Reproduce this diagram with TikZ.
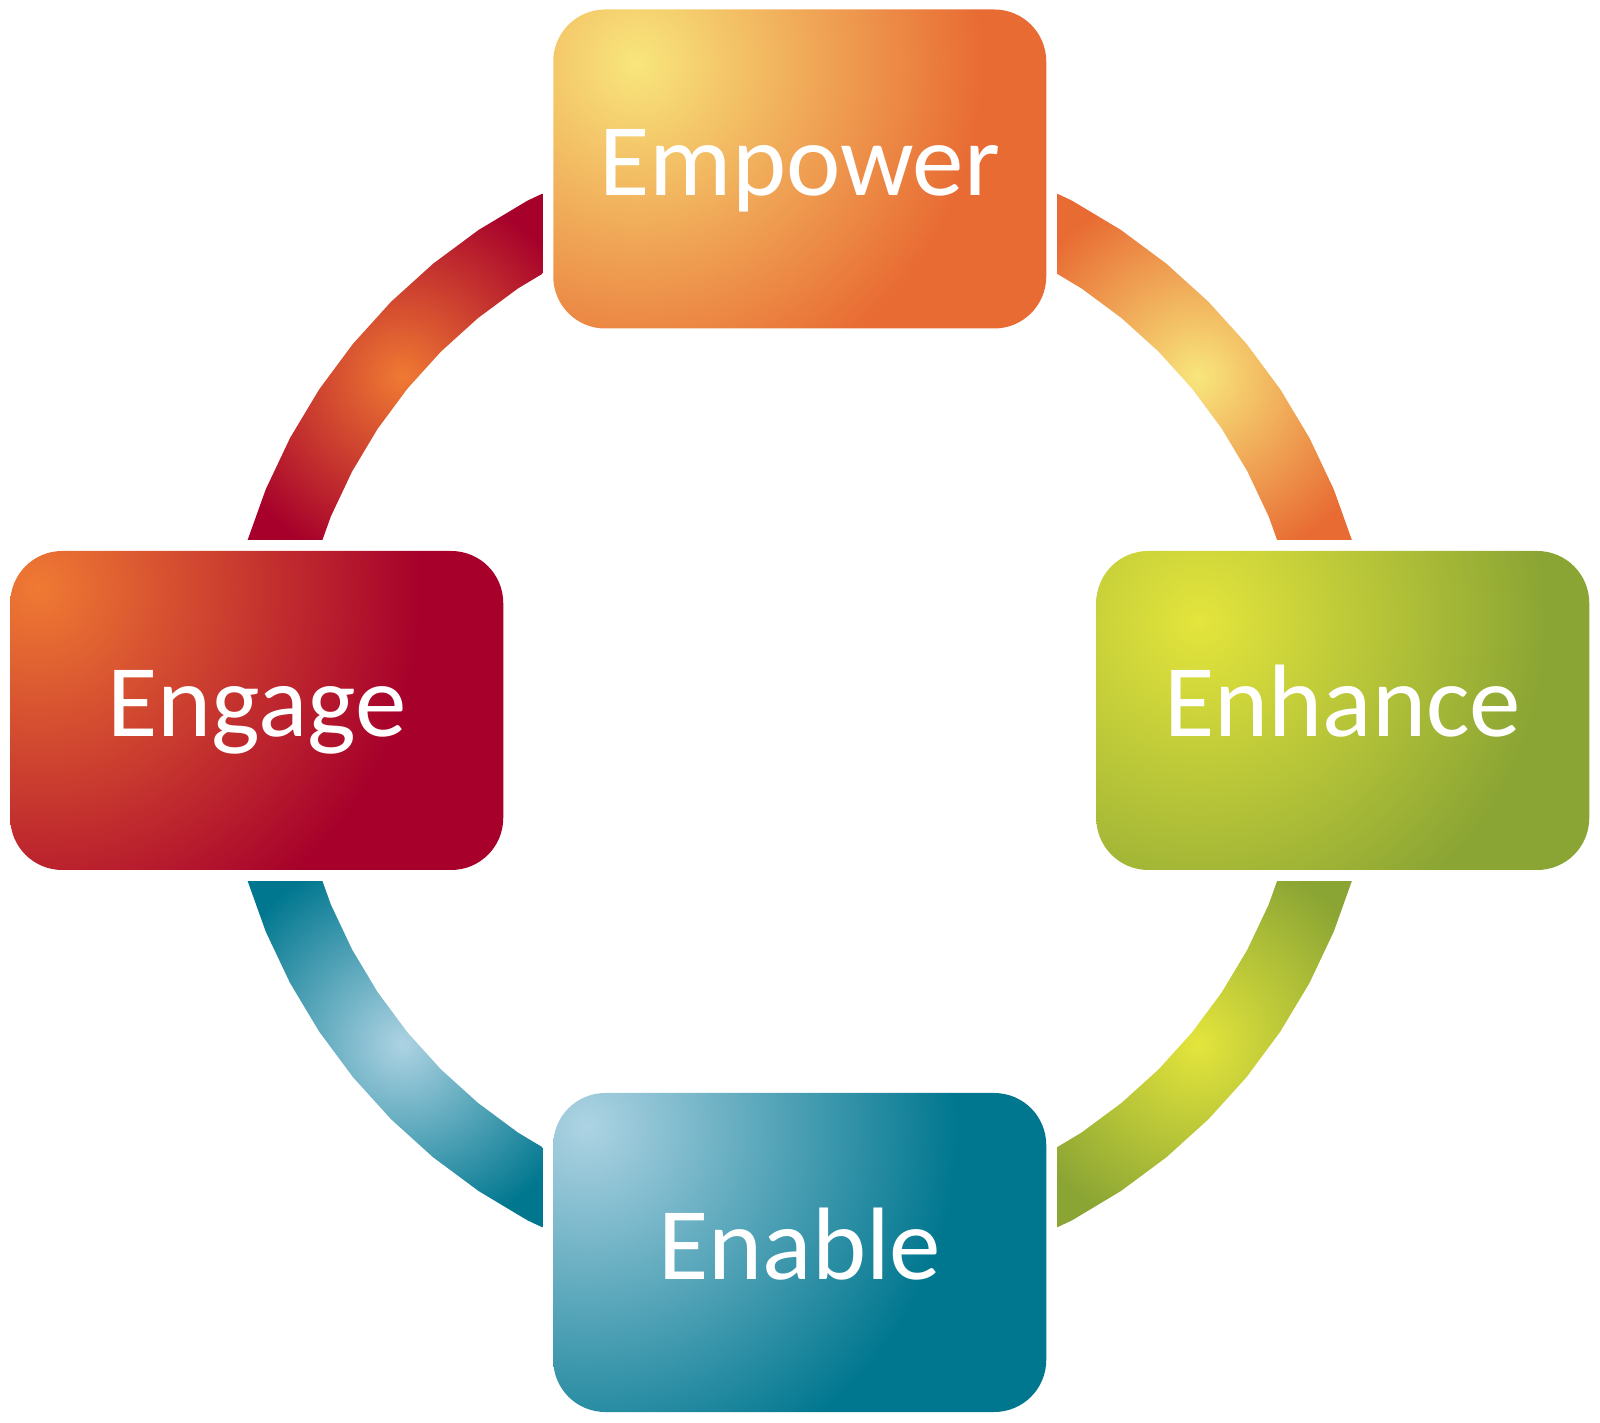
\documentclass[tikz,border=0pt]{standalone}
\usepackage{fontspec}
\setmainfont{Carlito}
\definecolor{orHi}{HTML}{F8E67C}
\definecolor{orDk}{HTML}{E86B33}
\definecolor{rdHi}{HTML}{EF7A33}
\definecolor{rdDk}{HTML}{A6002B}
\definecolor{grHi}{HTML}{E4E53C}
\definecolor{grDk}{HTML}{8BA534}
\definecolor{blHi}{HTML}{ADD3E3}
\definecolor{blDk}{HTML}{00778F}
\newcommand\mkradshade[5]{\pgfdeclareradialshading{#1}{\pgfpointorigin}{color(0bp)=(#2); color(#4bp)=(#3); color(#5bp)=(#3)}}
\mkradshade{sEmp}{orHi}{orDk}{345}{800}
\mkradshade{sEnh}{grHi}{grDk}{345}{800}
\mkradshade{sEng}{rdHi}{rdDk}{385}{800}
\mkradshade{sEna}{blHi}{blDk}{370}{800}
\mkradshade{aOr}{orHi}{orDk}{192}{420}
\mkradshade{aRd}{rdHi}{rdDk}{192}{420}
\mkradshade{aGr}{grHi}{grDk}{192}{420}
\mkradshade{aBl}{blHi}{blDk}{192}{420}
\pgfdeclarelayer{bg}
\pgfsetlayers{bg,main}
\begin{document}
\begin{tikzpicture}[x=1pt,y=1pt,
  box/.style={minimum width=493pt, minimum height=319pt,
    inner sep=0pt, outer sep=0pt, text=white, font=\fontsize{103}{110}\selectfont,
    text height=60pt, text depth=7pt},
  shadenode/.style={inner sep=0pt, outer sep=0pt}
  ]
\useasboundingbox (0,0) rectangle (1600,1422);
\coordinate (O) at (799.75,711.5);
% arc bands
\foreach \sx/\sy/\sh in {1/1/aOr, -1/1/aRd, -1/-1/aBl, 1/-1/aGr}{
  \begin{scope}[shift={(O)}, xscale=\sx, yscale=\sy]
    \clip (257.3,171.2) rectangle (700,700);
    \clip plot[domain=0:90,samples=17] (\x:578) -- plot[domain=90:0,samples=17] (\x:507.5) -- cycle;
    \node[shadenode] at (40:519) {\pgfuseshading{\sh}};
  \end{scope}
}
% boxes
\node[box] (empower) at (799.75,1253) {Empower};
\node[box] (enhance) at (1342.75,711.5) {Enhance};
\node[box] (engage) at (256.75,711.5) {Engage};
\node[box] (enable) at (799.75,169.5) {Enable};
\begin{pgfonlayer}{bg}
\foreach \nm/\sh/\dx/\dy in {empower/sEmp/83/-53, enhance/sEnh/103/-70, engage/sEng/27/-37, enable/sEna/33/-33}{
  \begin{scope}
    \clip[rounded corners=52pt] (\nm.south west) rectangle (\nm.north east);
    \node[shadenode] at ([shift={(\dx,\dy)}]\nm.north west) {\pgfuseshading{\sh}};
  \end{scope}
}
\end{pgfonlayer}
\end{tikzpicture}
\end{document}
